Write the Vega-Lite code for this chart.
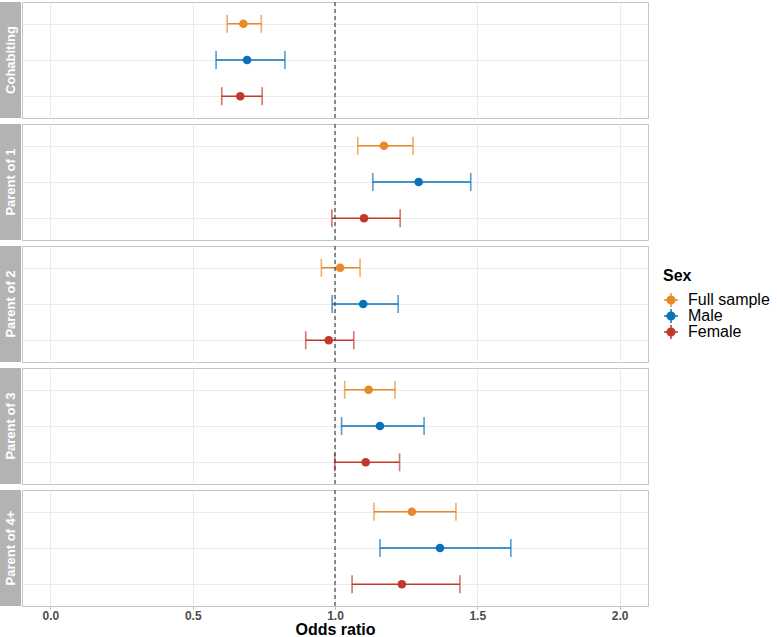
{
  "$schema": "https://vega.github.io/schema/vega-lite/v6.json",
  "padding": 0,
  "background": "white",
  "config": {
    "font": "Liberation Sans",
    "view": {"stroke": "#C4C4C4", "strokeWidth": 1}
  },
  "data": {
    "values": [
      {"panel": "Cohabiting", "Sex": "Full sample", "or": 0.678, "low": 0.621, "high": 0.741},
      {"panel": "Cohabiting", "Sex": "Male", "or": 0.691, "low": 0.582, "high": 0.824},
      {"panel": "Cohabiting", "Sex": "Female", "or": 0.667, "low": 0.602, "high": 0.744},
      {"panel": "Parent of 1", "Sex": "Full sample", "or": 1.172, "low": 1.080, "high": 1.274},
      {"panel": "Parent of 1", "Sex": "Male", "or": 1.294, "low": 1.133, "high": 1.477},
      {"panel": "Parent of 1", "Sex": "Female", "or": 1.102, "low": 0.989, "high": 1.229},
      {"panel": "Parent of 2", "Sex": "Full sample", "or": 1.018, "low": 0.952, "high": 1.088},
      {"panel": "Parent of 2", "Sex": "Male", "or": 1.099, "low": 0.990, "high": 1.222},
      {"panel": "Parent of 2", "Sex": "Female", "or": 0.978, "low": 0.897, "high": 1.066},
      {"panel": "Parent of 3", "Sex": "Full sample", "or": 1.118, "low": 1.034, "high": 1.211},
      {"panel": "Parent of 3", "Sex": "Male", "or": 1.158, "low": 1.023, "high": 1.313},
      {"panel": "Parent of 3", "Sex": "Female", "or": 1.108, "low": 0.999, "high": 1.227},
      {"panel": "Parent of 4+", "Sex": "Full sample", "or": 1.270, "low": 1.137, "high": 1.425},
      {"panel": "Parent of 4+", "Sex": "Male", "or": 1.369, "low": 1.158, "high": 1.618},
      {"panel": "Parent of 4+", "Sex": "Female", "or": 1.235, "low": 1.060, "high": 1.439}
    ]
  },
  "spacing": 0,
  "hconcat": [
    {
      "transform": [{"filter": "datum.Sex === 'Full sample'"}],
      "facet": {
        "row": {"field": "panel", "type": "nominal", "sort": ["Cohabiting", "Parent of 1", "Parent of 2", "Parent of 3", "Parent of 4+"], "header": null}
      },
      "spacing": 6,
      "bounds": "flush",
      "spec": {
        "width": 21,
        "height": 116,
        "view": {"fill": "#B3B3B3", "stroke": null},
        "mark": {"type": "text", "angle": 270, "color": "white", "fontSize": 13, "fontWeight": "bold", "align": "center", "baseline": "middle"},
        "encoding": {"text": {"field": "panel", "type": "nominal"}}
      }
    },
    {
      "facet": {
        "row": {"field": "panel", "type": "nominal", "sort": ["Cohabiting", "Parent of 1", "Parent of 2", "Parent of 3", "Parent of 4+"], "header": null}
      },
      "spacing": 6,
      "bounds": "flush",
      "spec": {
        "width": 626,
        "height": 116,
        "layer": [
          {
            "mark": {"type": "errorbar", "thickness": 1.6, "ticks": {"size": 18, "thickness": 1.6}},
            "encoding": {
              "y": {
                "field": "Sex", "type": "nominal",
                "scale": {"type": "point", "domain": ["Full sample", "Male", "Female"], "padding": 0.6},
                "axis": {"title": null, "labels": false, "ticks": false, "domain": false, "grid": true, "gridColor": "#EBEBEB", "gridWidth": 1}
              },
              "x": {
                "field": "low", "type": "quantitative",
                "scale": {"domain": [-0.1, 2.1], "nice": false, "zero": false},
                "axis": {
                  "values": [0, 0.5, 1, 1.5, 2], "format": ".1f",
                  "title": "Odds ratio", "titleFontSize": 16, "titleFontWeight": "bold", "titleColor": "black", "titlePadding": 0,
                  "labelFontSize": 12, "labelFontWeight": "bold", "labelColor": "#4D4D4D", "labelPadding": 1,
                  "tickColor": "#B3B3B3", "tickSize": 3, "domain": false,
                  "grid": true, "gridColor": "#EBEBEB", "gridWidth": 1
                }
              },
              "x2": {"field": "high"},
              "color": {
                "field": "Sex", "type": "nominal",
                "scale": {"domain": ["Full sample", "Male", "Female"], "range": ["#E8892B", "#0A72BA", "#C0392B"]},
                "legend": {
                  "orient": "none", "legendX": 663, "legendY": 266,
                  "title": "Sex", "titleFontSize": 16, "titleFontWeight": "bold", "titleColor": "black", "titlePadding": 8,
                  "labelFontSize": 16, "labelColor": "black", "labelOffset": 9,
                  "symbolType": "M-1,0L1,0M0,-1L0,1M-0.55,0A0.55,0.55,0,1,0,0.55,0A0.55,0.55,0,1,0,-0.55,0Z",
                  "symbolSize": 196, "symbolStrokeWidth": 1.5, "rowPadding": 0, "clipHeight": 16, "labelLimit": 200,
                  "encode": {
                    "symbols": {"update": {"fill": {"scale": "color", "field": "value"}, "stroke": {"scale": "color", "field": "value"}, "fillOpacity": {"value": 1}}},
                    "labels": {"update": {"baseline": {"value": "middle"}}}
                  }
                }
              }
            }
          },
          {
            "mark": {"type": "point", "filled": true, "size": 75, "opacity": 1},
            "encoding": {
              "y": {"field": "Sex", "type": "nominal"},
              "x": {"field": "or", "type": "quantitative"},
              "color": {"field": "Sex", "type": "nominal"}
            }
          },
          {
            "transform": [{"filter": "datum.Sex === 'Full sample'"}],
            "mark": {"type": "rule", "strokeDash": [4, 3], "color": "#333333", "strokeWidth": 1.1},
            "encoding": {"x": {"datum": 1}}
          }
        ]
      }
    }
  ]
}
